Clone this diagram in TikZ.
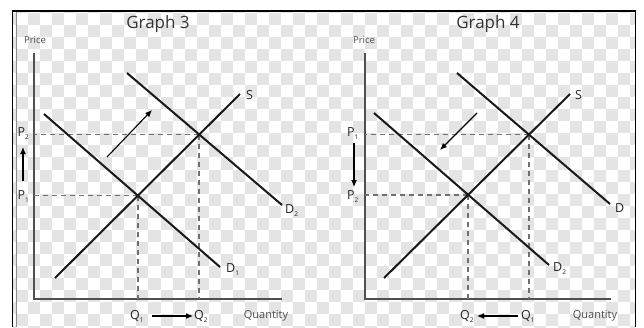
\documentclass[tikz,border=0pt]{standalone}
\usepackage{fontspec}
\setmainfont{Open Sans}
\usetikzlibrary{arrows.meta,calc}
\definecolor{chk}{HTML}{E4E4E4}
\definecolor{axisc}{HTML}{505050}
\definecolor{dashc}{HTML}{707070}
\newcommand{\sbx}[1]{{\fontsize{6.5}{6.5}\selectfont\raisebox{-3pt}{#1}}}
\begin{document}
\begin{tikzpicture}[x=1pt,y=-1pt,
  curve/.style={line width=2pt, black!90},
  axisline/.style={line width=1.6pt, axisc},
  guide/.style={line width=1.6pt, dashc, dash pattern=on 5pt off 4pt},
  move/.style={line width=1.1pt, black, -{Latex[length=7pt,width=6pt]}},
  lbl/.style={font=\fontsize{12.5}{13}\selectfont, inner sep=0pt, text=black!85},
  ttl/.style={font=\fontsize{17}{19}\selectfont, inner sep=0pt, text=black!80},
  small/.style={font=\fontsize{9.5}{10}\selectfont, inner sep=0pt, text=black!70},
  qty/.style={font=\fontsize{11}{12}\selectfont, inner sep=0pt, text=black!70}]
\useasboundingbox (0,0) rectangle (644,327);
\fill[white] (0,0) rectangle (644,327);
% checkerboard
\begin{scope}
\clip (13,11) rectangle (635,327);
\foreach \j in {0,2,...,28}{
  \foreach \i in {0,2,...,54}{
    \fill[chk] ({4+(\i+1)*12.04},{0.96+\j*12.04}) rectangle ++(12.04,12.04);
    \fill[chk] ({4+\i*12.04},{0.96+(\j+1)*12.04}) rectangle ++(12.04,12.04);
  }
}
\end{scope}
% frame
\draw[line width=1.5pt, black] (12.5,327) -- (12.5,11) -- (635.5,11) -- (635.5,327);
\draw[line width=1pt, black!45] (16.5,12) -- (16.5,327);

% ================= Graph 3 =================
\node[ttl] (t3) at (158,24) {Graph 3};
\node[small] (pr3) at (35,40) {Price};
\coordinate (ya3) at (34,53);
\coordinate (o3) at (34,299);
\coordinate (xa3) at (282,299);
\draw[axisline] (ya3) -- (o3) -- (xa3);

\coordinate (s3a) at (55,278);
\coordinate (s3b) at (240,94);
\coordinate (d13a) at (44,114);
\coordinate (d13b) at (220,267);
\coordinate (d23a) at (127,73);
\coordinate (d23b) at (282,205);
\coordinate (e13) at (intersection of s3a--s3b and d13a--d13b);
\coordinate (e23) at (intersection of s3a--s3b and d23a--d23b);

\draw[guide] (e13) -- (e13 -| o3);
\draw[guide] (e13) -- (e13 |- o3);
\draw[guide] (e23) -- (e23 -| o3);
\draw[guide] (e23) -- (e23 |- o3);

\draw[curve] (s3a) -- (s3b);
\draw[curve] (d13a) -- (d13b);
\draw[curve] (d23a) -- (d23b);

\node[lbl, anchor=west] (ls3) at (246,95) {S};
\node[lbl, anchor=west] (ld13) at (226,270) {D\sbx{1}};
\node[lbl, anchor=west] (ld23) at (285,211) {D\sbx{2}};
\node[lbl, anchor=west] (lp23) at (17.5,134) {P\sbx{2}};
\node[lbl, anchor=west] (lp13) at (17.5,197) {P\sbx{1}};
\node[lbl, anchor=west] (lq13) at (130,316) {Q\sbx{1}};
\node[lbl, anchor=west] (lq23) at (194,316) {Q\sbx{2}};
\node[qty] (qt3) at (266,316) {Quantity};

\coordinate (pa3) at (23,181);
\coordinate (pb3) at (23,147);
\draw[move] (pa3) -- (pb3);
\coordinate (qa3) at (152,316);
\coordinate (qb3) at (193,316);
\draw[move] (qa3) -- (qb3);
\coordinate (sa3) at (107,157);
\coordinate (sb3) at (152,110);
\draw[move] (sa3) -- (sb3);

% ================= Graph 4 =================
\node[ttl] (t4) at (488,24) {Graph 4};
\node[small] (pr4) at (364,40) {Price};
\coordinate (ya4) at (365,53);
\coordinate (o4) at (365,299);
\coordinate (xa4) at (611,299);
\draw[axisline] (ya4) -- (o4) -- (xa4);

\coordinate (s4a) at (384,278);
\coordinate (s4b) at (570,94);
\coordinate (d4a) at (457,73);
\coordinate (d4b) at (610,204);
\coordinate (d24a) at (374,113);
\coordinate (d24b) at (549,265);
\coordinate (e14) at (intersection of s4a--s4b and d4a--d4b);
\coordinate (e24) at (intersection of s4a--s4b and d24a--d24b);

\draw[guide] (e14) -- (e14 -| o4);
\draw[guide] (e14) -- (e14 |- o4);
\draw[guide] (e24) -- (e24 -| o4);
\draw[guide] (e24) -- (e24 |- o4);

\draw[curve] (s4a) -- (s4b);
\draw[curve] (d4a) -- (d4b);
\draw[curve] (d24a) -- (d24b);

\node[lbl, anchor=west] (ls4) at (575,95) {S};
\node[lbl, anchor=west] (ld4) at (615,208) {D};
\node[lbl, anchor=west] (ld24) at (553,269) {D\sbx{2}};
\node[lbl, anchor=west] (lp14) at (347,134) {P\sbx{1}};
\node[lbl, anchor=west] (lp24) at (347,197) {P\sbx{2}};
\node[lbl, anchor=west] (lq24) at (460,316) {Q\sbx{2}};
\node[lbl, anchor=west] (lq14) at (521,316) {Q\sbx{1}};
\node[qty] (qt4) at (595,316) {Quantity};

\coordinate (pa4) at (354,143);
\coordinate (pb4) at (354,187);
\draw[move] (pa4) -- (pb4);
\coordinate (qa4) at (518,316);
\coordinate (qb4) at (477,316);
\draw[move] (qa4) -- (qb4);
\coordinate (sa4) at (477,113);
\coordinate (sb4) at (440,150);
\draw[move] (sa4) -- (sb4);
\end{tikzpicture}
\end{document}
